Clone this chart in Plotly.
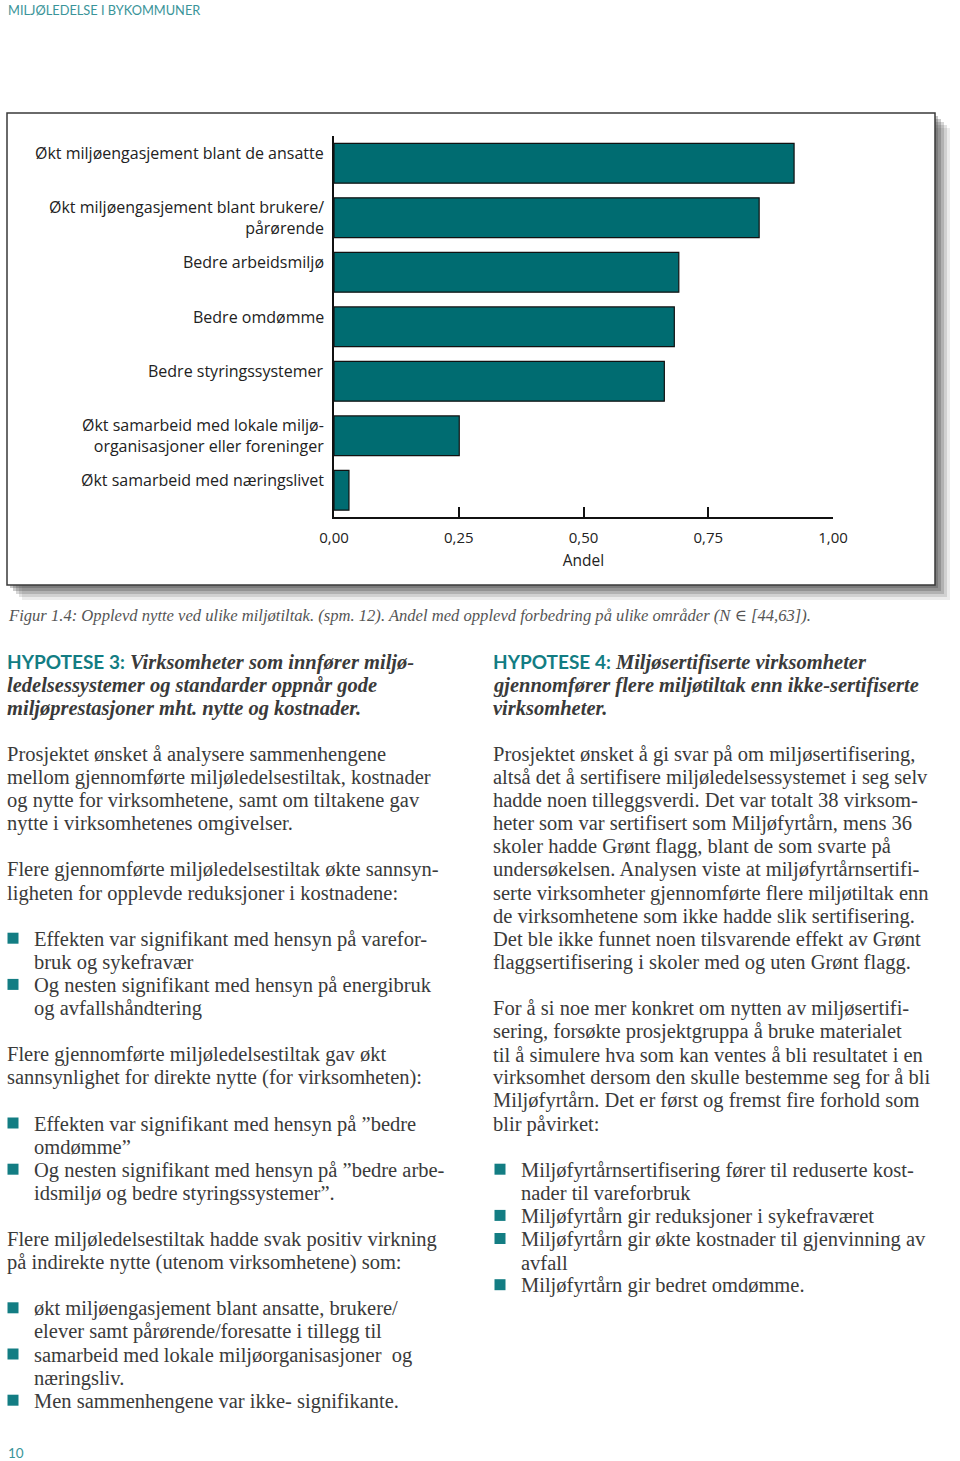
import plotly.graph_objects as go

# ---------------- data ----------------
categories = [
    "Økt miljøengasjement blant de ansatte",
    "Økt miljøengasjement blant brukere/<br>pårørende",
    "Bedre arbeidsmiljø",
    "Bedre omdømme",
    "Bedre styringssystemer",
    "Økt samarbeid med lokale miljø-<br>organisasjoner eller foreninger",
    "Økt samarbeid med næringslivet",
]
values = [0.922, 0.852, 0.691, 0.682, 0.662, 0.251, 0.030]
tick_vals = [0, 0.25, 0.5, 0.75, 1.0]
tick_text = ["0,00", "0,25", "0,50", "0,75", "1,00"]
x_title = "Andel"

header_text = "MILJØLEDELSE I BYKOMMUNER"
page_number = "10"
caption = ("Figur 1.4: Opplevd nytte ved ulike miljøtiltak. (spm. 12). "
           "Andel med opplevd forbedring på ulike områder (N ∈ [44,63]).")

left_lines = [
    ("h", "HYPOTESE 3:", " Virksomheter som innfører miljø-"),
    ("i", "ledelsessystemer og standarder oppnår gode"),
    ("i", "miljøprestasjoner mht. nytte og kostnader."),
    ("",),
    ("p", "Prosjektet ønsket å analysere sammenhengene"),
    ("p", "mellom gjennomførte miljøledelsestiltak, kostnader"),
    ("p", "og nytte for virksomhetene, samt om tiltakene gav"),
    ("p", "nytte i virksomhetenes omgivelser."),
    ("",),
    ("p", "Flere gjennomførte miljøledelsestiltak økte sannsyn-"),
    ("p", "ligheten for opplevde reduksjoner i kostnadene:"),
    ("",),
    ("b", "Effekten var signifikant med hensyn på varefor-"),
    ("c", "bruk og sykefravær"),
    ("b", "Og nesten signifikant med hensyn på energibruk"),
    ("c", "og avfallshåndtering"),
    ("",),
    ("p", "Flere gjennomførte miljøledelsestiltak gav økt"),
    ("p", "sannsynlighet for direkte nytte (for virksomheten):"),
    ("",),
    ("b", "Effekten var signifikant med hensyn på ”bedre"),
    ("c", "omdømme”"),
    ("b", "Og nesten signifikant med hensyn på ”bedre arbe-"),
    ("c", "idsmiljø og bedre styringssystemer”."),
    ("",),
    ("p", "Flere miljøledelsestiltak hadde svak positiv virkning"),
    ("p", "på indirekte nytte (utenom virksomhetene) som:"),
    ("",),
    ("b", "økt miljøengasjement blant ansatte, brukere/"),
    ("c", "elever samt pårørende/foresatte i tillegg til"),
    ("b", "samarbeid med lokale miljøorganisasjoner  og"),
    ("c", "næringsliv."),
    ("b", "Men sammenhengene var ikke- signifikante."),
]

right_lines = [
    ("h", "HYPOTESE 4:", " Miljøsertifiserte virksomheter"),
    ("i", "gjennomfører flere miljøtiltak enn ikke-sertifiserte"),
    ("i", "virksomheter."),
    ("",),
    ("p", "Prosjektet ønsket å gi svar på om miljøsertifisering,"),
    ("p", "altså det å sertifisere miljøledelsessystemet i seg selv"),
    ("p", "hadde noen tilleggsverdi. Det var totalt 38 virksom-"),
    ("p", "heter som var sertifisert som Miljøfyrtårn, mens 36"),
    ("p", "skoler hadde Grønt flagg, blant de som svarte på"),
    ("p", "undersøkelsen. Analysen viste at miljøfyrtårnsertifi-"),
    ("p", "serte virksomheter gjennomførte flere miljøtiltak enn"),
    ("p", "de virksomhetene som ikke hadde slik sertifisering."),
    ("p", "Det ble ikke funnet noen tilsvarende effekt av Grønt"),
    ("p", "flaggsertifisering i skoler med og uten Grønt flagg."),
    ("",),
    ("p", "For å si noe mer konkret om nytten av miljøsertifi-"),
    ("p", "sering, forsøkte prosjektgruppa å bruke materialet"),
    ("p", "til å simulere hva som kan ventes å bli resultatet i en"),
    ("p", "virksomhet dersom den skulle bestemme seg for å bli"),
    ("p", "Miljøfyrtårn. Det er først og fremst fire forhold som"),
    ("p", "blir påvirket:"),
    ("",),
    ("b", "Miljøfyrtårnsertifisering fører til reduserte kost-"),
    ("c", "nader til vareforbruk"),
    ("b", "Miljøfyrtårn gir reduksjoner i sykefraværet"),
    ("b", "Miljøfyrtårn gir økte kostnader til gjenvinning av"),
    ("c", "avfall"),
    ("b", "Miljøfyrtårn gir bedret omdømme."),
]

# ---------------- styling ----------------
W, H = 960, 1461
TEAL = "#006C71"
TEAL_TXT = "#137D83"
BODY = "#3a3a3a"
SERIF = "Liberation Serif, DejaVu Serif, serif"
SANS = "Open Sans, Noto Sans, sans-serif"
HEAD_SANS = "Lato, Open Sans, sans-serif"


def px(x):
    return x / W


def py(y):
    return 1 - y / H


fig = go.Figure()
fig.add_trace(go.Bar(
    x=values, y=categories, orientation="h", width=0.73,
    marker=dict(color=TEAL, line=dict(color="#111111", width=1.2)),
    hoverinfo="x+y",
))

fig.update_xaxes(
    domain=[px(334), px(833)], range=[0, 1.0],
    tickvals=tick_vals, ticktext=tick_text,
    ticks="inside", ticklen=10, tickwidth=2, tickcolor="#111",
    showline=True, linecolor="#111", linewidth=2,
    showgrid=False, zeroline=False, automargin=False,
    tickfont=dict(family=SANS, size=15, color="#222"),
    ticklabelstandoff=6,
    title=dict(text=x_title, font=dict(family=SANS, size=15.5, color="#222"), standoff=9),
)
fig.update_yaxes(
    domain=[py(517), py(136)], range=[6.49, -0.5],
    showline=True, linecolor="#111", linewidth=2, automargin=False,
    showticklabels=False, ticks="", showgrid=False, zeroline=False,
)

ann = []
# category labels
for c in categories:
    single = "<br>" not in c
    ann.append(dict(
        xref="paper", yref="y", x=px(326), y=c, text=c,
        xanchor="right", yanchor="middle", align="right", showarrow=False,
        yshift=10 if single else 0,
        font=dict(family=SANS, size=16, color="#222"),
    ))

# header / page number / caption
ann.append(dict(xref="paper", yref="paper", x=px(6), y=py(10), text=header_text,
                xanchor="left", yanchor="middle", showarrow=False,
                font=dict(family=HEAD_SANS, size=12.8, color="#3A9499")))
ann.append(dict(xref="paper", yref="paper", x=px(6), y=py(1453), text=page_number,
                xanchor="left", yanchor="middle", showarrow=False,
                font=dict(family=HEAD_SANS, size=13.5, color="#3A9499")))
ann.append(dict(xref="paper", yref="paper", x=px(6), y=py(616), text="<i>" + caption + "</i>",
                xanchor="left", yanchor="middle", showarrow=False,
                font=dict(family=SERIF, size=16.6, color="#555")))

shapes = []
# shadow of chart frame
for off, op in [(15, 0.10), (12, 0.16), (9, 0.22), (6, 0.28), (3, 0.30)]:
    shapes.append(dict(type="rect", xref="paper", yref="paper", layer="below",
                       x0=px(7 + off), x1=px(935 + off), y0=py(585 + off), y1=py(113 + off),
                       fillcolor="rgba(70,70,70,%.2f)" % op, line=dict(width=0)))
shapes.append(dict(type="rect", xref="paper", yref="paper", layer="below",
                   x0=px(7), x1=px(935), y0=py(585), y1=py(113),
                   fillcolor="white", line=dict(color="#3a3a3a", width=1.5)))

LINE0, STEP = 662, 23.1


def add_column(lines, x_text, x_bullet_text, x_bullet):
    for i, ln in enumerate(lines):
        kind = ln[0]
        if not kind:
            continue
        y = LINE0 + i * STEP
        if kind == "h":
            txt = ("<span style='font-family:Lato, sans-serif; font-weight:bold; font-size:19px; color:%s'>%s</span>"
                   "<b><i>%s</i></b>" % (TEAL_TXT, ln[1], ln[2]))
            xx = x_text
        elif kind == "i":
            txt = "<b><i>%s</i></b>" % ln[1]
            xx = x_text
        elif kind == "p":
            txt = ln[1]
            xx = x_text
        else:
            txt = ln[1]
            xx = x_bullet_text
        if kind == "b":
            shapes.append(dict(type="rect", xref="paper", yref="paper",
                               x0=px(x_bullet - 5.5), x1=px(x_bullet + 5.5),
                               y0=py(y + 4.5), y1=py(y - 6.5),
                               fillcolor=TEAL_TXT, line=dict(width=0)))
        ann.append(dict(xref="paper", yref="paper", x=px(xx), y=py(y), text=txt,
                        xanchor="left", yanchor="middle", showarrow=False,
                        font=dict(family=SERIF, size=20.5, color=BODY)))


add_column(left_lines, 5, 32, 13)
add_column(right_lines, 491, 519, 500)

fig.update_layout(
    width=W, height=H, autosize=False,
    margin=dict(l=0, r=0, t=0, b=0, pad=0, autoexpand=False),
    paper_bgcolor="white", plot_bgcolor="rgba(0,0,0,0)",
    showlegend=False, bargap=0.27,
    annotations=ann, shapes=shapes,
)

fig.write_html(
    "out.html",
    config={"responsive": False, "displayModeBar": False},
    post_script="document.body.style.margin='0';document.body.style.overflow='hidden';",
)
